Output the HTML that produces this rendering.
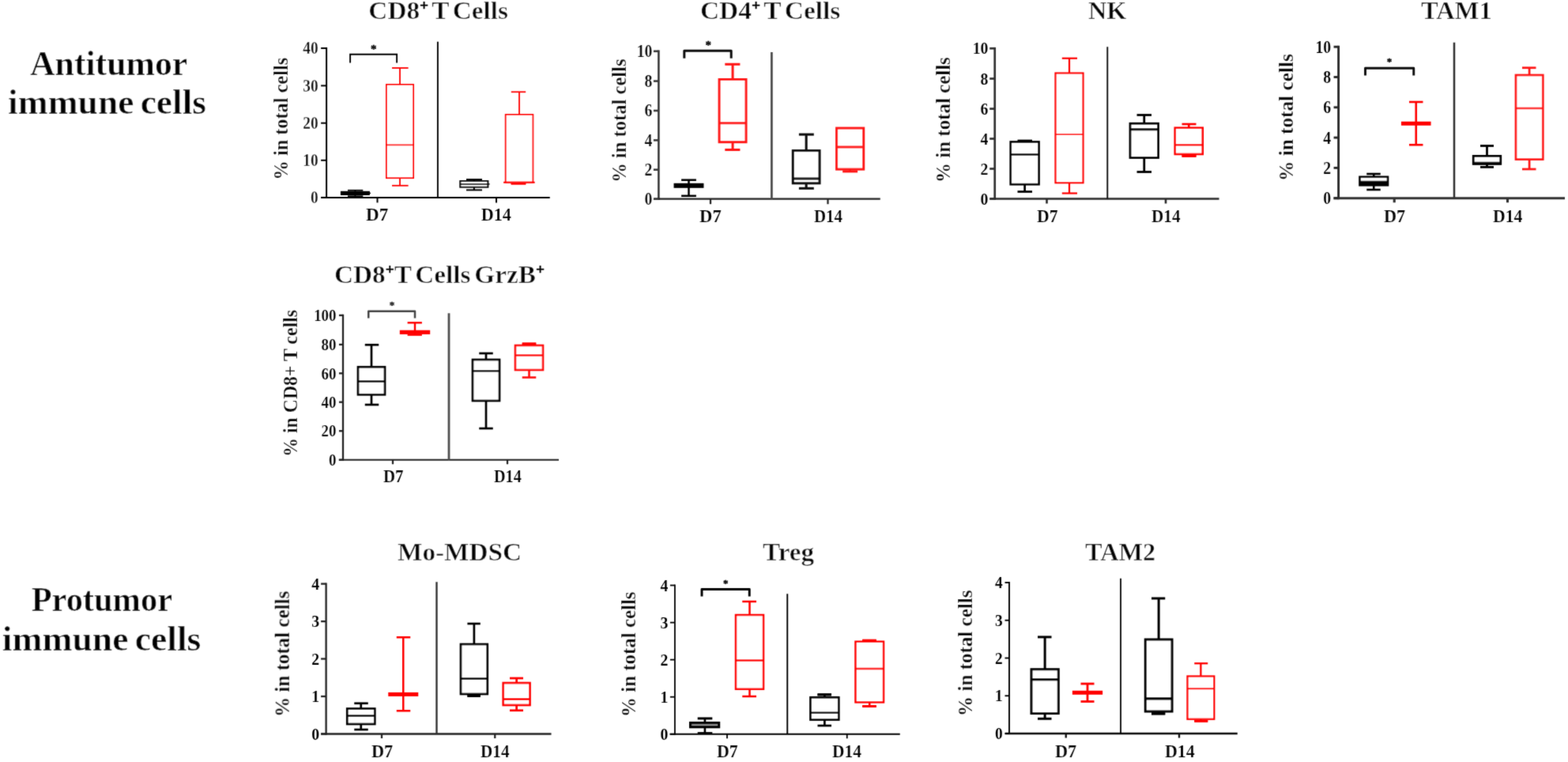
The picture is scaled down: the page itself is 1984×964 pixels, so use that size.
<!DOCTYPE html>
<html lang="en">
<head>
<meta charset="utf-8">
<title>Antitumor and protumor immune cells</title>
<style>
html,body{margin:0;padding:0;background:#fff;}
body{width:1984px;height:964px;overflow:hidden;}
svg{display:block;font-family:'Liberation Serif', 'DejaVu Serif', serif;}
</style>
</head>
<body>
<svg width="1984" height="964" viewBox="0 0 1984 964">
<defs><filter id="soft" x="0" y="0" width="1984" height="964" filterUnits="userSpaceOnUse"><feConvolveMatrix order="3" kernelMatrix="0.02 0.08 0.02 0.08 0.6 0.08 0.02 0.08 0.02" divisor="1" edgeMode="none" preserveAlpha="false"/></filter></defs>
<rect width="1984" height="964" fill="#ffffff"/>
<g filter="url(#soft)">
<text transform="translate(37.99 94.50) scale(1.0051 1)" font-size="43.5" font-weight="bold" text-anchor="start" fill="#000000" stroke="#fff" stroke-width="0.45" stroke-linejoin="round" style="word-spacing:-3px">Antitumor</text>
<text transform="translate(10.11 143.90) scale(1.0464 1)" font-size="43.5" font-weight="bold" text-anchor="start" fill="#000000" stroke="#fff" stroke-width="0.45" stroke-linejoin="round" style="word-spacing:-3px">immune cells</text>
<text transform="translate(39.64 773.20) scale(0.9756 1)" font-size="43.5" font-weight="bold" text-anchor="start" fill="#000000" stroke="#fff" stroke-width="0.45" stroke-linejoin="round" style="word-spacing:-3px">Protumor</text>
<text transform="translate(2.71 823.10) scale(1.0497 1)" font-size="43.5" font-weight="bold" text-anchor="start" fill="#000000" stroke="#fff" stroke-width="0.45" stroke-linejoin="round" style="word-spacing:-3px">immune cells</text>
<text transform="translate(466.36 23.75) scale(1.0250 1)" font-size="32.5" font-weight="bold" text-anchor="start" fill="#000000" stroke="#fff" stroke-width="0.5" stroke-linejoin="round" style="word-spacing:-3.5px">CD8<tspan font-size="19" dy="-10.5" stroke="#000" stroke-width="0.4">+</tspan><tspan dy="10.5"> T Cells</tspan></text>
<text transform="translate(885.94 23.75) scale(1.0296 1)" font-size="32.5" font-weight="bold" text-anchor="start" fill="#000000" stroke="#fff" stroke-width="0.5" stroke-linejoin="round" style="word-spacing:-3.5px">CD4<tspan font-size="19" dy="-10.5" stroke="#000" stroke-width="0.4">+</tspan><tspan dy="10.5"> T Cells</tspan></text>
<text transform="translate(1377.01 23.75) scale(0.9897 1)" font-size="32.5" font-weight="bold" text-anchor="start" fill="#000000" stroke="#fff" stroke-width="0.5" stroke-linejoin="round" style="word-spacing:-3.5px">NK</text>
<text transform="translate(1797.99 23.75) scale(1.0029 1)" font-size="32.5" font-weight="bold" text-anchor="start" fill="#000000" stroke="#fff" stroke-width="0.5" stroke-linejoin="round" style="word-spacing:-3.5px">TAM1</text>
<text transform="translate(422.97 357.50) scale(1.0251 1)" font-size="32.5" font-weight="bold" text-anchor="start" fill="#000000" stroke="#fff" stroke-width="0.5" stroke-linejoin="round" style="word-spacing:-3.5px">CD8<tspan font-size="19" dy="-10.5" stroke="#000" stroke-width="0.4">+</tspan><tspan dy="10.5">T Cells GrzB</tspan><tspan font-size="19" dy="-10.5" stroke="#000" stroke-width="0.4">+</tspan></text>
<text transform="translate(502.96 708.75) scale(1.0250 1)" font-size="32.5" font-weight="bold" text-anchor="start" fill="#000000" stroke="#fff" stroke-width="0.5" stroke-linejoin="round" style="word-spacing:-3.5px">Mo-MDSC</text>
<text transform="translate(964.98 708.75) scale(1.0239 1)" font-size="32.5" font-weight="bold" text-anchor="start" fill="#000000" stroke="#fff" stroke-width="0.5" stroke-linejoin="round" style="word-spacing:-3.5px">Treg</text>
<text transform="translate(1373.00 708.75) scale(0.9943 1)" font-size="32.5" font-weight="bold" text-anchor="start" fill="#000000" stroke="#fff" stroke-width="0.5" stroke-linejoin="round" style="word-spacing:-3.5px">TAM2</text>
<line x1="413.10" y1="59.90" x2="413.10" y2="250.90" stroke="#000000" stroke-width="2.0" stroke-linecap="butt"/>
<line x1="406.25" y1="249.90" x2="695.75" y2="249.90" stroke="#000000" stroke-width="2.0" stroke-linecap="butt"/>
<line x1="406.10" y1="61.00" x2="413.10" y2="61.00" stroke="#000000" stroke-width="2.0" stroke-linecap="butt"/>
<text transform="translate(402.60 68.42) scale(0.8600 1)" font-size="22.5" font-weight="bold" text-anchor="end" fill="#000000" stroke="#fff" stroke-width="0.25" stroke-linejoin="round" >40</text>
<line x1="406.10" y1="108.40" x2="413.10" y2="108.40" stroke="#000000" stroke-width="2.0" stroke-linecap="butt"/>
<text transform="translate(402.60 115.83) scale(0.8600 1)" font-size="22.5" font-weight="bold" text-anchor="end" fill="#000000" stroke="#fff" stroke-width="0.25" stroke-linejoin="round" >30</text>
<line x1="406.10" y1="155.70" x2="413.10" y2="155.70" stroke="#000000" stroke-width="2.0" stroke-linecap="butt"/>
<text transform="translate(402.60 163.12) scale(0.8600 1)" font-size="22.5" font-weight="bold" text-anchor="end" fill="#000000" stroke="#fff" stroke-width="0.25" stroke-linejoin="round" >20</text>
<line x1="406.10" y1="202.80" x2="413.10" y2="202.80" stroke="#000000" stroke-width="2.0" stroke-linecap="butt"/>
<text transform="translate(402.60 210.23) scale(0.8600 1)" font-size="22.5" font-weight="bold" text-anchor="end" fill="#000000" stroke="#fff" stroke-width="0.25" stroke-linejoin="round" >10</text>
<line x1="406.10" y1="249.90" x2="413.10" y2="249.90" stroke="#000000" stroke-width="2.0" stroke-linecap="butt"/>
<text transform="translate(402.60 257.32) scale(0.8600 1)" font-size="22.5" font-weight="bold" text-anchor="end" fill="#000000" stroke="#fff" stroke-width="0.25" stroke-linejoin="round" >0</text>
<line x1="477.50" y1="249.90" x2="477.50" y2="256.40" stroke="#000000" stroke-width="2.0" stroke-linecap="butt"/>
<line x1="628.00" y1="249.90" x2="628.00" y2="256.40" stroke="#000000" stroke-width="2.0" stroke-linecap="butt"/>
<line x1="553.90" y1="52.75" x2="553.90" y2="249.90" stroke="#000000" stroke-width="1.9" stroke-linecap="butt"/>
<text transform="translate(363.50 227.44) rotate(-90) scale(0.9352 1)" font-size="26" font-weight="bold" text-anchor="start" fill="#000000" stroke="#fff" stroke-width="0.25" stroke-linejoin="round" >% in total cells</text>
<text transform="translate(462.98 279.25) scale(1.0270 1)" font-size="22.5" font-weight="bold" text-anchor="start" fill="#000000" stroke="#fff" stroke-width="0.12" stroke-linejoin="round" >D7</text>
<text transform="translate(608.80 279.25) scale(0.9843 1)" font-size="22.5" font-weight="bold" text-anchor="start" fill="#000000" stroke="#fff" stroke-width="0.12" stroke-linejoin="round" >D14</text>
<path d="M443.10 79.40 V68.75 H502.10 V79.40" fill="none" stroke="#000000" stroke-width="1.9"/>
<text transform="translate(472.75 67.25)" font-size="15" font-weight="bold" text-anchor="middle" fill="#000000" stroke="#000000" stroke-width="0.4" stroke-linejoin="round" >*</text>
<line x1="449.40" y1="240.80" x2="449.40" y2="244.40" stroke="#000000" stroke-width="1.8" stroke-linecap="butt"/>
<line x1="440.00" y1="240.80" x2="459.30" y2="240.80" stroke="#000000" stroke-width="1.8" stroke-linecap="butt"/>
<line x1="449.40" y1="244.40" x2="449.40" y2="248.20" stroke="#000000" stroke-width="1.8" stroke-linecap="butt"/>
<line x1="440.00" y1="248.20" x2="459.30" y2="248.20" stroke="#000000" stroke-width="1.8" stroke-linecap="butt"/>
<rect x="430.90" y="241.80" width="37.00" height="5.20" fill="#000000"/>
<line x1="467.00" y1="244.40" x2="469.00" y2="244.40" stroke="#000000" stroke-width="1.4" stroke-linecap="butt"/>
<line x1="506.00" y1="86.00" x2="506.00" y2="107.00" stroke="#ff0000" stroke-width="1.8" stroke-linecap="butt"/>
<line x1="496.00" y1="86.00" x2="516.60" y2="86.00" stroke="#ff0000" stroke-width="1.8" stroke-linecap="butt"/>
<line x1="506.00" y1="225.20" x2="506.00" y2="234.80" stroke="#ff0000" stroke-width="1.8" stroke-linecap="butt"/>
<line x1="496.00" y1="234.80" x2="516.60" y2="234.80" stroke="#ff0000" stroke-width="1.8" stroke-linecap="butt"/>
<rect x="488.90" y="107.00" width="34.20" height="118.20" fill="#fff" stroke="#ff0000" stroke-width="1.8"/>
<line x1="488.90" y1="183.30" x2="523.10" y2="183.30" stroke="#ff0000" stroke-width="1.8" stroke-linecap="butt"/>
<line x1="599.85" y1="227.10" x2="599.85" y2="229.10" stroke="#000000" stroke-width="2.0" stroke-linecap="butt"/>
<line x1="590.00" y1="227.10" x2="610.00" y2="227.10" stroke="#000000" stroke-width="2.0" stroke-linecap="butt"/>
<line x1="599.85" y1="236.70" x2="599.85" y2="240.40" stroke="#000000" stroke-width="2.0" stroke-linecap="butt"/>
<line x1="590.00" y1="240.40" x2="610.00" y2="240.40" stroke="#000000" stroke-width="2.0" stroke-linecap="butt"/>
<rect x="582.30" y="229.10" width="35.10" height="7.60" fill="#fff" stroke="#000000" stroke-width="2.0"/>
<line x1="582.30" y1="232.90" x2="617.40" y2="232.90" stroke="#000000" stroke-width="2.0" stroke-linecap="butt"/>
<line x1="617.40" y1="232.90" x2="619.60" y2="232.90" stroke="#000000" stroke-width="1.4" stroke-linecap="butt"/>
<line x1="657.05" y1="116.30" x2="657.05" y2="145.00" stroke="#ff0000" stroke-width="1.8" stroke-linecap="butt"/>
<line x1="646.80" y1="116.30" x2="665.20" y2="116.30" stroke="#ff0000" stroke-width="1.8" stroke-linecap="butt"/>
<line x1="657.05" y1="230.60" x2="657.05" y2="232.50" stroke="#ff0000" stroke-width="1.8" stroke-linecap="butt"/>
<line x1="646.80" y1="232.50" x2="665.20" y2="232.50" stroke="#ff0000" stroke-width="1.8" stroke-linecap="butt"/>
<rect x="639.70" y="145.00" width="34.70" height="85.60" fill="#fff" stroke="#ff0000" stroke-width="1.8"/>
<line x1="637.10" y1="230.80" x2="676.70" y2="230.80" stroke="#ff0000" stroke-width="2.1" stroke-linecap="butt"/>
<line x1="646.50" y1="232.60" x2="665.40" y2="232.60" stroke="#ff0000" stroke-width="1.9" stroke-linecap="butt"/>
<line x1="833.40" y1="63.50" x2="833.40" y2="253.00" stroke="#3a3a3a" stroke-width="2.6" stroke-linecap="butt"/>
<line x1="827.50" y1="251.70" x2="1113.75" y2="251.70" stroke="#222" stroke-width="2.2" stroke-linecap="butt"/>
<line x1="826.90" y1="64.80" x2="833.40" y2="64.80" stroke="#3a3a3a" stroke-width="2.6" stroke-linecap="butt"/>
<text transform="translate(825.50 72.22) scale(0.8800 1)" font-size="22.5" font-weight="bold" text-anchor="end" fill="#000000" stroke="#fff" stroke-width="0.2" stroke-linejoin="round" >10</text>
<line x1="826.90" y1="102.60" x2="833.40" y2="102.60" stroke="#3a3a3a" stroke-width="2.6" stroke-linecap="butt"/>
<text transform="translate(825.50 110.02) scale(0.8800 1)" font-size="22.5" font-weight="bold" text-anchor="end" fill="#000000" stroke="#fff" stroke-width="0.2" stroke-linejoin="round" >8</text>
<line x1="826.90" y1="140.00" x2="833.40" y2="140.00" stroke="#3a3a3a" stroke-width="2.6" stroke-linecap="butt"/>
<text transform="translate(825.50 147.43) scale(0.8800 1)" font-size="22.5" font-weight="bold" text-anchor="end" fill="#000000" stroke="#fff" stroke-width="0.2" stroke-linejoin="round" >6</text>
<line x1="826.90" y1="177.40" x2="833.40" y2="177.40" stroke="#3a3a3a" stroke-width="2.6" stroke-linecap="butt"/>
<text transform="translate(825.50 184.83) scale(0.8800 1)" font-size="22.5" font-weight="bold" text-anchor="end" fill="#000000" stroke="#fff" stroke-width="0.2" stroke-linejoin="round" >4</text>
<line x1="826.90" y1="214.70" x2="833.40" y2="214.70" stroke="#3a3a3a" stroke-width="2.6" stroke-linecap="butt"/>
<text transform="translate(825.50 222.12) scale(0.8800 1)" font-size="22.5" font-weight="bold" text-anchor="end" fill="#000000" stroke="#fff" stroke-width="0.2" stroke-linejoin="round" >2</text>
<line x1="826.90" y1="251.70" x2="833.40" y2="251.70" stroke="#3a3a3a" stroke-width="2.6" stroke-linecap="butt"/>
<text transform="translate(825.50 259.12) scale(0.8800 1)" font-size="22.5" font-weight="bold" text-anchor="end" fill="#000000" stroke="#fff" stroke-width="0.2" stroke-linejoin="round" >0</text>
<line x1="899.00" y1="251.70" x2="899.00" y2="258.20" stroke="#222" stroke-width="2.2" stroke-linecap="butt"/>
<line x1="1047.50" y1="251.70" x2="1047.50" y2="258.20" stroke="#222" stroke-width="2.2" stroke-linecap="butt"/>
<line x1="976.40" y1="66.00" x2="976.40" y2="251.70" stroke="#505050" stroke-width="2.8" stroke-linecap="butt"/>
<text transform="translate(791.50 230.86) rotate(-90) scale(0.9461 1)" font-size="26" font-weight="bold" text-anchor="start" fill="#000000" stroke="#fff" stroke-width="0.25" stroke-linejoin="round" >% in total cells</text>
<text transform="translate(885.00 281.25) scale(1.0099 1)" font-size="22.5" font-weight="bold" text-anchor="start" fill="#000000" stroke="#fff" stroke-width="0.12" stroke-linejoin="round" >D7</text>
<text transform="translate(1030.00 281.25) scale(0.9298 1)" font-size="22.5" font-weight="bold" text-anchor="start" fill="#000000" stroke="#fff" stroke-width="0.12" stroke-linejoin="round" >D14</text>
<path d="M865.80 73.80 V64.30 H925.20 V73.80" fill="none" stroke="#111" stroke-width="3.0" stroke-linejoin="round"/>
<text transform="translate(896.30 62.25)" font-size="15" font-weight="bold" text-anchor="middle" fill="#000000" stroke="#000000" stroke-width="0.4" stroke-linejoin="round" >*</text>
<line x1="871.50" y1="227.70" x2="871.50" y2="234.80" stroke="#000000" stroke-width="2.5" stroke-linecap="butt"/>
<line x1="862.10" y1="227.70" x2="880.90" y2="227.70" stroke="#000000" stroke-width="2.5" stroke-linecap="butt"/>
<line x1="871.50" y1="234.80" x2="871.50" y2="247.80" stroke="#000000" stroke-width="2.5" stroke-linecap="butt"/>
<line x1="862.10" y1="247.80" x2="880.90" y2="247.80" stroke="#000000" stroke-width="2.5" stroke-linecap="butt"/>
<rect x="852.55" y="231.80" width="37.90" height="6.00" fill="#000000"/>
<line x1="927.05" y1="81.30" x2="927.05" y2="100.50" stroke="#ff1414" stroke-width="3.0" stroke-linecap="butt"/>
<line x1="917.30" y1="81.30" x2="936.40" y2="81.30" stroke="#ff1414" stroke-width="3.0" stroke-linecap="butt"/>
<line x1="927.05" y1="179.70" x2="927.05" y2="189.50" stroke="#ff1414" stroke-width="3.0" stroke-linecap="butt"/>
<line x1="917.30" y1="189.50" x2="936.40" y2="189.50" stroke="#ff1414" stroke-width="3.0" stroke-linecap="butt"/>
<rect x="910.10" y="100.50" width="33.90" height="79.20" fill="#fff" stroke="#ff1414" stroke-width="3.0"/>
<line x1="910.10" y1="155.75" x2="944.00" y2="155.75" stroke="#ff1414" stroke-width="3.0" stroke-linecap="butt"/>
<line x1="1020.15" y1="170.10" x2="1020.15" y2="190.60" stroke="#0a0a0a" stroke-width="3.0" stroke-linecap="butt"/>
<line x1="1010.90" y1="170.10" x2="1029.80" y2="170.10" stroke="#0a0a0a" stroke-width="3.0" stroke-linecap="butt"/>
<line x1="1020.15" y1="231.80" x2="1020.15" y2="238.30" stroke="#0a0a0a" stroke-width="3.0" stroke-linecap="butt"/>
<line x1="1010.90" y1="238.30" x2="1029.80" y2="238.30" stroke="#0a0a0a" stroke-width="3.0" stroke-linecap="butt"/>
<rect x="1003.30" y="190.60" width="33.70" height="41.20" fill="#fff" stroke="#0a0a0a" stroke-width="3.0"/>
<line x1="1003.30" y1="226.00" x2="1037.00" y2="226.00" stroke="#0a0a0a" stroke-width="3.0" stroke-linecap="butt"/>
<line x1="1075.65" y1="214.10" x2="1075.65" y2="216.90" stroke="#ff1414" stroke-width="3.0" stroke-linecap="butt"/>
<line x1="1066.20" y1="216.90" x2="1085.10" y2="216.90" stroke="#ff1414" stroke-width="3.0" stroke-linecap="butt"/>
<rect x="1058.60" y="162.10" width="34.10" height="52.00" fill="#fff" stroke="#ff1414" stroke-width="3.0"/>
<line x1="1058.60" y1="186.00" x2="1092.70" y2="186.00" stroke="#ff1414" stroke-width="3.0" stroke-linecap="butt"/>
<line x1="1258.70" y1="59.90" x2="1258.70" y2="252.85" stroke="#333" stroke-width="2.7" stroke-linecap="butt"/>
<line x1="1252.50" y1="251.50" x2="1542.50" y2="251.50" stroke="#2a2a2a" stroke-width="2.6" stroke-linecap="butt"/>
<line x1="1252.20" y1="61.25" x2="1258.70" y2="61.25" stroke="#333" stroke-width="2.7" stroke-linecap="butt"/>
<text transform="translate(1250.50 68.34) scale(0.9200 1)" font-size="21.5" font-weight="bold" text-anchor="end" fill="#000000" stroke="#fff" stroke-width="0.1" stroke-linejoin="round" >10</text>
<line x1="1252.20" y1="99.50" x2="1258.70" y2="99.50" stroke="#333" stroke-width="2.7" stroke-linecap="butt"/>
<text transform="translate(1250.50 106.59) scale(0.9200 1)" font-size="21.5" font-weight="bold" text-anchor="end" fill="#000000" stroke="#fff" stroke-width="0.1" stroke-linejoin="round" >8</text>
<line x1="1252.20" y1="137.60" x2="1258.70" y2="137.60" stroke="#333" stroke-width="2.7" stroke-linecap="butt"/>
<text transform="translate(1250.50 144.69) scale(0.9200 1)" font-size="21.5" font-weight="bold" text-anchor="end" fill="#000000" stroke="#fff" stroke-width="0.1" stroke-linejoin="round" >6</text>
<line x1="1252.20" y1="175.50" x2="1258.70" y2="175.50" stroke="#333" stroke-width="2.7" stroke-linecap="butt"/>
<text transform="translate(1250.50 182.59) scale(0.9200 1)" font-size="21.5" font-weight="bold" text-anchor="end" fill="#000000" stroke="#fff" stroke-width="0.1" stroke-linejoin="round" >4</text>
<line x1="1252.20" y1="213.50" x2="1258.70" y2="213.50" stroke="#333" stroke-width="2.7" stroke-linecap="butt"/>
<text transform="translate(1250.50 220.59) scale(0.9200 1)" font-size="21.5" font-weight="bold" text-anchor="end" fill="#000000" stroke="#fff" stroke-width="0.1" stroke-linejoin="round" >2</text>
<line x1="1252.20" y1="251.50" x2="1258.70" y2="251.50" stroke="#333" stroke-width="2.7" stroke-linecap="butt"/>
<text transform="translate(1250.50 258.60) scale(0.9200 1)" font-size="21.5" font-weight="bold" text-anchor="end" fill="#000000" stroke="#fff" stroke-width="0.1" stroke-linejoin="round" >0</text>
<line x1="1324.50" y1="251.50" x2="1324.50" y2="257.50" stroke="#2a2a2a" stroke-width="2.6" stroke-linecap="butt"/>
<line x1="1475.00" y1="251.50" x2="1475.00" y2="257.50" stroke="#2a2a2a" stroke-width="2.6" stroke-linecap="butt"/>
<line x1="1401.25" y1="59.25" x2="1401.25" y2="251.50" stroke="#111" stroke-width="1.9" stroke-linecap="butt"/>
<text transform="translate(1202.00 230.88) rotate(-90) scale(0.9599 1)" font-size="26" font-weight="bold" text-anchor="start" fill="#000000" stroke="#fff" stroke-width="0.25" stroke-linejoin="round" >% in total cells</text>
<text transform="translate(1312.00 281.25) scale(0.9630 1)" font-size="22.5" font-weight="bold" text-anchor="start" fill="#000000" stroke="#fff" stroke-width="0.12" stroke-linejoin="round" >D7</text>
<text transform="translate(1457.02 281.25) scale(0.9411 1)" font-size="22.5" font-weight="bold" text-anchor="start" fill="#000000" stroke="#fff" stroke-width="0.12" stroke-linejoin="round" >D14</text>
<line x1="1296.62" y1="178.00" x2="1296.62" y2="179.50" stroke="#000000" stroke-width="2.7" stroke-linecap="butt"/>
<line x1="1287.50" y1="178.00" x2="1306.00" y2="178.00" stroke="#000000" stroke-width="2.7" stroke-linecap="butt"/>
<line x1="1296.62" y1="233.20" x2="1296.62" y2="242.50" stroke="#000000" stroke-width="2.7" stroke-linecap="butt"/>
<line x1="1287.50" y1="242.50" x2="1306.00" y2="242.50" stroke="#000000" stroke-width="2.7" stroke-linecap="butt"/>
<rect x="1278.75" y="179.50" width="35.75" height="53.70" fill="#fff" stroke="#000000" stroke-width="2.7"/>
<line x1="1278.75" y1="195.50" x2="1314.50" y2="195.50" stroke="#000000" stroke-width="2.7" stroke-linecap="butt"/>
<line x1="1353.00" y1="73.75" x2="1353.00" y2="92.50" stroke="#ff0000" stroke-width="2.2" stroke-linecap="butt"/>
<line x1="1343.80" y1="73.75" x2="1363.00" y2="73.75" stroke="#ff0000" stroke-width="2.2" stroke-linecap="butt"/>
<line x1="1353.00" y1="231.25" x2="1353.00" y2="244.50" stroke="#ff0000" stroke-width="2.2" stroke-linecap="butt"/>
<line x1="1343.80" y1="244.50" x2="1363.00" y2="244.50" stroke="#ff0000" stroke-width="2.2" stroke-linecap="butt"/>
<rect x="1335.50" y="92.50" width="35.00" height="138.75" fill="#fff" stroke="#ff0000" stroke-width="2.2"/>
<line x1="1335.50" y1="170.00" x2="1370.50" y2="170.00" stroke="#ff0000" stroke-width="2.2" stroke-linecap="butt"/>
<line x1="1447.75" y1="145.50" x2="1447.75" y2="156.25" stroke="#000000" stroke-width="2.8" stroke-linecap="butt"/>
<line x1="1438.50" y1="145.50" x2="1457.00" y2="145.50" stroke="#000000" stroke-width="2.8" stroke-linecap="butt"/>
<line x1="1447.75" y1="199.50" x2="1447.75" y2="217.50" stroke="#000000" stroke-width="2.8" stroke-linecap="butt"/>
<line x1="1438.50" y1="217.50" x2="1457.00" y2="217.50" stroke="#000000" stroke-width="2.8" stroke-linecap="butt"/>
<rect x="1430.00" y="156.25" width="35.50" height="43.25" fill="#fff" stroke="#000000" stroke-width="2.8"/>
<line x1="1430.00" y1="163.75" x2="1465.50" y2="163.75" stroke="#000000" stroke-width="2.8" stroke-linecap="butt"/>
<line x1="1504.25" y1="157.00" x2="1504.25" y2="161.75" stroke="#ff0000" stroke-width="2.6" stroke-linecap="butt"/>
<line x1="1495.50" y1="157.00" x2="1513.50" y2="157.00" stroke="#ff0000" stroke-width="2.6" stroke-linecap="butt"/>
<line x1="1504.25" y1="195.00" x2="1504.25" y2="197.30" stroke="#ff0000" stroke-width="2.6" stroke-linecap="butt"/>
<line x1="1495.50" y1="197.30" x2="1513.50" y2="197.30" stroke="#ff0000" stroke-width="2.6" stroke-linecap="butt"/>
<rect x="1486.75" y="161.75" width="35.00" height="33.25" fill="#fff" stroke="#ff0000" stroke-width="2.6"/>
<line x1="1486.75" y1="183.25" x2="1521.75" y2="183.25" stroke="#ff0000" stroke-width="2.6" stroke-linecap="butt"/>
<line x1="1495.50" y1="197.30" x2="1513.50" y2="197.30" stroke="#ff0000" stroke-width="3.2" stroke-linecap="butt"/>
<line x1="1693.60" y1="57.80" x2="1693.60" y2="252.20" stroke="#2a2a2a" stroke-width="2.9" stroke-linecap="butt"/>
<line x1="1687.50" y1="250.75" x2="1980.00" y2="250.75" stroke="#333" stroke-width="3.1" stroke-linecap="butt"/>
<line x1="1687.60" y1="59.25" x2="1693.60" y2="59.25" stroke="#2a2a2a" stroke-width="2.9" stroke-linecap="butt"/>
<text transform="translate(1684.25 66.67) scale(0.8800 1)" font-size="22.5" font-weight="bold" text-anchor="end" fill="#000000" stroke="#fff" stroke-width="0.1" stroke-linejoin="round" >10</text>
<line x1="1687.60" y1="97.50" x2="1693.60" y2="97.50" stroke="#2a2a2a" stroke-width="2.9" stroke-linecap="butt"/>
<text transform="translate(1684.25 104.92) scale(0.8800 1)" font-size="22.5" font-weight="bold" text-anchor="end" fill="#000000" stroke="#fff" stroke-width="0.1" stroke-linejoin="round" >8</text>
<line x1="1687.60" y1="135.80" x2="1693.60" y2="135.80" stroke="#2a2a2a" stroke-width="2.9" stroke-linecap="butt"/>
<text transform="translate(1684.25 143.23) scale(0.8800 1)" font-size="22.5" font-weight="bold" text-anchor="end" fill="#000000" stroke="#fff" stroke-width="0.1" stroke-linejoin="round" >6</text>
<line x1="1687.60" y1="174.10" x2="1693.60" y2="174.10" stroke="#2a2a2a" stroke-width="2.9" stroke-linecap="butt"/>
<text transform="translate(1684.25 181.53) scale(0.8800 1)" font-size="22.5" font-weight="bold" text-anchor="end" fill="#000000" stroke="#fff" stroke-width="0.1" stroke-linejoin="round" >4</text>
<line x1="1687.60" y1="212.40" x2="1693.60" y2="212.40" stroke="#2a2a2a" stroke-width="2.9" stroke-linecap="butt"/>
<text transform="translate(1684.25 219.83) scale(0.8800 1)" font-size="22.5" font-weight="bold" text-anchor="end" fill="#000000" stroke="#fff" stroke-width="0.1" stroke-linejoin="round" >2</text>
<line x1="1687.60" y1="250.75" x2="1693.60" y2="250.75" stroke="#2a2a2a" stroke-width="2.9" stroke-linecap="butt"/>
<text transform="translate(1684.25 258.18) scale(0.8800 1)" font-size="22.5" font-weight="bold" text-anchor="end" fill="#000000" stroke="#fff" stroke-width="0.1" stroke-linejoin="round" >0</text>
<line x1="1764.25" y1="250.75" x2="1764.25" y2="256.25" stroke="#333" stroke-width="3.1" stroke-linecap="butt"/>
<line x1="1907.50" y1="250.75" x2="1907.50" y2="256.25" stroke="#333" stroke-width="3.1" stroke-linecap="butt"/>
<line x1="1840.00" y1="53.75" x2="1840.00" y2="250.75" stroke="#333" stroke-width="2.5" stroke-linecap="butt"/>
<text transform="translate(1635.50 228.94) rotate(-90) scale(0.9725 1)" font-size="26" font-weight="bold" text-anchor="start" fill="#000000" stroke="#fff" stroke-width="0.25" stroke-linejoin="round" >% in total cells</text>
<text transform="translate(1751.00 280.75) scale(0.9909 1)" font-size="22.5" font-weight="bold" text-anchor="start" fill="#000000" stroke="#fff" stroke-width="0.12" stroke-linejoin="round" >D7</text>
<text transform="translate(1889.00 280.75) scale(0.9672 1)" font-size="22.5" font-weight="bold" text-anchor="start" fill="#000000" stroke="#fff" stroke-width="0.12" stroke-linejoin="round" >D14</text>
<path d="M1727.50 95.50 V86.25 H1788.75 V95.50" fill="none" stroke="#111" stroke-width="2.9" stroke-linejoin="round"/>
<text transform="translate(1758.00 81.83)" font-size="13" font-weight="bold" text-anchor="middle" fill="#000000" stroke="#000000" stroke-width="0.4" stroke-linejoin="round" >*</text>
<line x1="1738.25" y1="220.00" x2="1738.25" y2="223.80" stroke="#000000" stroke-width="2.6" stroke-linecap="butt"/>
<line x1="1729.25" y1="220.00" x2="1746.75" y2="220.00" stroke="#000000" stroke-width="2.6" stroke-linecap="butt"/>
<line x1="1738.25" y1="234.30" x2="1738.25" y2="240.00" stroke="#000000" stroke-width="2.6" stroke-linecap="butt"/>
<line x1="1729.25" y1="240.00" x2="1746.75" y2="240.00" stroke="#000000" stroke-width="2.6" stroke-linecap="butt"/>
<rect x="1720.50" y="223.80" width="35.50" height="10.50" fill="#fff" stroke="#000000" stroke-width="2.6"/>
<line x1="1720.50" y1="230.80" x2="1756.00" y2="230.80" stroke="#000000" stroke-width="4.2" stroke-linecap="butt"/>
<line x1="1791.75" y1="129.00" x2="1791.75" y2="156.25" stroke="#ff0000" stroke-width="2.6" stroke-linecap="butt"/>
<line x1="1783.00" y1="129.00" x2="1800.50" y2="129.00" stroke="#ff0000" stroke-width="2.6" stroke-linecap="butt"/>
<line x1="1791.75" y1="156.25" x2="1791.75" y2="183.25" stroke="#ff0000" stroke-width="2.6" stroke-linecap="butt"/>
<line x1="1783.00" y1="183.25" x2="1800.50" y2="183.25" stroke="#ff0000" stroke-width="2.6" stroke-linecap="butt"/>
<rect x="1772.95" y="153.75" width="37.60" height="5.00" fill="#ff0000"/>
<line x1="1881.50" y1="184.50" x2="1881.50" y2="197.40" stroke="#000000" stroke-width="2.8" stroke-linecap="butt"/>
<line x1="1873.00" y1="184.50" x2="1890.00" y2="184.50" stroke="#000000" stroke-width="2.8" stroke-linecap="butt"/>
<line x1="1881.50" y1="207.40" x2="1881.50" y2="211.40" stroke="#000000" stroke-width="2.8" stroke-linecap="butt"/>
<line x1="1873.00" y1="211.40" x2="1890.00" y2="211.40" stroke="#000000" stroke-width="2.8" stroke-linecap="butt"/>
<rect x="1864.25" y="197.40" width="34.50" height="10.00" fill="#fff" stroke="#000000" stroke-width="2.8"/>
<line x1="1864.25" y1="206.60" x2="1898.75" y2="206.60" stroke="#000000" stroke-width="3.5" stroke-linecap="butt"/>
<line x1="1935.12" y1="85.75" x2="1935.12" y2="95.00" stroke="#ff1414" stroke-width="2.7" stroke-linecap="butt"/>
<line x1="1926.00" y1="85.75" x2="1943.50" y2="85.75" stroke="#ff1414" stroke-width="2.7" stroke-linecap="butt"/>
<line x1="1935.12" y1="201.60" x2="1935.12" y2="214.00" stroke="#ff1414" stroke-width="2.7" stroke-linecap="butt"/>
<line x1="1926.00" y1="214.00" x2="1943.50" y2="214.00" stroke="#ff1414" stroke-width="2.7" stroke-linecap="butt"/>
<rect x="1918.00" y="95.00" width="34.25" height="106.60" fill="#fff" stroke="#ff1414" stroke-width="2.7"/>
<line x1="1918.00" y1="137.00" x2="1952.25" y2="137.00" stroke="#ff1414" stroke-width="2.7" stroke-linecap="butt"/>
<line x1="434.00" y1="397.75" x2="434.00" y2="582.90" stroke="#222" stroke-width="2.3" stroke-linecap="butt"/>
<line x1="428.75" y1="581.75" x2="707.00" y2="581.75" stroke="#222" stroke-width="2.2" stroke-linecap="butt"/>
<line x1="429.00" y1="398.90" x2="434.00" y2="398.90" stroke="#222" stroke-width="2.3" stroke-linecap="butt"/>
<text transform="translate(425.50 406.16) scale(0.8600 1)" font-size="22" font-weight="bold" text-anchor="end" fill="#000000" stroke="#fff" stroke-width="0.15" stroke-linejoin="round" >100</text>
<line x1="429.00" y1="435.90" x2="434.00" y2="435.90" stroke="#222" stroke-width="2.3" stroke-linecap="butt"/>
<text transform="translate(425.50 443.16) scale(0.8600 1)" font-size="22" font-weight="bold" text-anchor="end" fill="#000000" stroke="#fff" stroke-width="0.15" stroke-linejoin="round" >80</text>
<line x1="429.00" y1="472.30" x2="434.00" y2="472.30" stroke="#222" stroke-width="2.3" stroke-linecap="butt"/>
<text transform="translate(425.50 479.56) scale(0.8600 1)" font-size="22" font-weight="bold" text-anchor="end" fill="#000000" stroke="#fff" stroke-width="0.15" stroke-linejoin="round" >60</text>
<line x1="429.00" y1="508.70" x2="434.00" y2="508.70" stroke="#222" stroke-width="2.3" stroke-linecap="butt"/>
<text transform="translate(425.50 515.96) scale(0.8600 1)" font-size="22" font-weight="bold" text-anchor="end" fill="#000000" stroke="#fff" stroke-width="0.15" stroke-linejoin="round" >40</text>
<line x1="429.00" y1="545.20" x2="434.00" y2="545.20" stroke="#222" stroke-width="2.3" stroke-linecap="butt"/>
<text transform="translate(425.50 552.46) scale(0.8600 1)" font-size="22" font-weight="bold" text-anchor="end" fill="#000000" stroke="#fff" stroke-width="0.15" stroke-linejoin="round" >20</text>
<line x1="429.00" y1="581.75" x2="434.00" y2="581.75" stroke="#222" stroke-width="2.3" stroke-linecap="butt"/>
<text transform="translate(425.50 589.01) scale(0.8600 1)" font-size="22" font-weight="bold" text-anchor="end" fill="#000000" stroke="#fff" stroke-width="0.15" stroke-linejoin="round" >0</text>
<line x1="497.00" y1="581.75" x2="497.00" y2="587.25" stroke="#222" stroke-width="2.2" stroke-linecap="butt"/>
<line x1="642.00" y1="581.75" x2="642.00" y2="587.25" stroke="#222" stroke-width="2.2" stroke-linecap="butt"/>
<line x1="568.00" y1="396.25" x2="568.00" y2="581.75" stroke="#505050" stroke-width="2.8" stroke-linecap="butt"/>
<text transform="translate(376.25 577.79) rotate(-90) scale(0.9150 1)" font-size="26" font-weight="bold" text-anchor="start" fill="#000000" stroke="#fff" stroke-width="0.25" stroke-linejoin="round" >% in CD8+ T cells</text>
<text transform="translate(485.00 610.00) scale(0.9259 1)" font-size="22.5" font-weight="bold" text-anchor="start" fill="#000000" stroke="#fff" stroke-width="0.12" stroke-linejoin="round" >D7</text>
<text transform="translate(625.00 610.00) scale(0.8974 1)" font-size="22.5" font-weight="bold" text-anchor="start" fill="#000000" stroke="#fff" stroke-width="0.12" stroke-linejoin="round" >D14</text>
<path d="M466.25 402.50 V393.75 H525.00 V402.50" fill="none" stroke="#444" stroke-width="2.5" stroke-linejoin="round"/>
<text transform="translate(495.90 390.43)" font-size="13" font-weight="bold" text-anchor="middle" fill="#222" stroke="#222" stroke-width="0.4" stroke-linejoin="round" >*</text>
<line x1="470.00" y1="436.25" x2="470.00" y2="464.25" stroke="#000000" stroke-width="2.7" stroke-linecap="butt"/>
<line x1="461.75" y1="436.25" x2="479.25" y2="436.25" stroke="#000000" stroke-width="2.7" stroke-linecap="butt"/>
<line x1="470.00" y1="499.25" x2="470.00" y2="512.00" stroke="#000000" stroke-width="2.7" stroke-linecap="butt"/>
<line x1="461.75" y1="512.00" x2="479.25" y2="512.00" stroke="#000000" stroke-width="2.7" stroke-linecap="butt"/>
<rect x="453.00" y="464.25" width="34.00" height="35.00" fill="#fff" stroke="#000000" stroke-width="2.7"/>
<line x1="453.00" y1="482.50" x2="487.00" y2="482.50" stroke="#000000" stroke-width="2.7" stroke-linecap="butt"/>
<line x1="525.00" y1="408.30" x2="525.00" y2="420.30" stroke="#ff0000" stroke-width="2.4" stroke-linecap="butt"/>
<line x1="515.60" y1="408.30" x2="533.90" y2="408.30" stroke="#ff0000" stroke-width="2.4" stroke-linecap="butt"/>
<line x1="525.00" y1="420.30" x2="525.00" y2="423.60" stroke="#ff0000" stroke-width="2.4" stroke-linecap="butt"/>
<line x1="515.60" y1="423.60" x2="533.90" y2="423.60" stroke="#ff0000" stroke-width="2.4" stroke-linecap="butt"/>
<rect x="505.80" y="417.70" width="38.40" height="5.20" fill="#ff0000"/>
<line x1="615.00" y1="447.00" x2="615.00" y2="455.00" stroke="#000000" stroke-width="2.7" stroke-linecap="butt"/>
<line x1="606.25" y1="447.00" x2="623.75" y2="447.00" stroke="#000000" stroke-width="2.7" stroke-linecap="butt"/>
<line x1="615.00" y1="507.00" x2="615.00" y2="542.00" stroke="#000000" stroke-width="2.7" stroke-linecap="butt"/>
<line x1="606.25" y1="542.00" x2="623.75" y2="542.00" stroke="#000000" stroke-width="2.7" stroke-linecap="butt"/>
<rect x="598.00" y="455.00" width="34.00" height="52.00" fill="#fff" stroke="#000000" stroke-width="2.7"/>
<line x1="598.00" y1="469.25" x2="632.00" y2="469.25" stroke="#000000" stroke-width="2.7" stroke-linecap="butt"/>
<line x1="669.50" y1="434.80" x2="669.50" y2="437.00" stroke="#ff0a0a" stroke-width="2.6" stroke-linecap="butt"/>
<line x1="660.75" y1="434.80" x2="678.25" y2="434.80" stroke="#ff0a0a" stroke-width="2.6" stroke-linecap="butt"/>
<line x1="669.50" y1="468.00" x2="669.50" y2="477.50" stroke="#ff0a0a" stroke-width="2.6" stroke-linecap="butt"/>
<line x1="660.75" y1="477.50" x2="678.25" y2="477.50" stroke="#ff0a0a" stroke-width="2.6" stroke-linecap="butt"/>
<rect x="652.00" y="437.00" width="35.00" height="31.00" fill="#fff" stroke="#ff0a0a" stroke-width="2.6"/>
<line x1="652.00" y1="449.50" x2="687.00" y2="449.50" stroke="#ff0a0a" stroke-width="2.6" stroke-linecap="butt"/>
<line x1="660.75" y1="435.00" x2="678.25" y2="435.00" stroke="#ff0000" stroke-width="3.0" stroke-linecap="butt"/>
<line x1="412.60" y1="737.45" x2="412.60" y2="929.65" stroke="#222" stroke-width="2.3" stroke-linecap="butt"/>
<line x1="406.25" y1="928.50" x2="697.50" y2="928.50" stroke="#222" stroke-width="2.3" stroke-linecap="butt"/>
<line x1="406.10" y1="738.60" x2="412.60" y2="738.60" stroke="#222" stroke-width="2.3" stroke-linecap="butt"/>
<text transform="translate(404.25 745.70) scale(0.9200 1)" font-size="21.5" font-weight="bold" text-anchor="end" fill="#000000" stroke="#fff" stroke-width="0.05" stroke-linejoin="round" >4</text>
<line x1="406.10" y1="786.10" x2="412.60" y2="786.10" stroke="#222" stroke-width="2.3" stroke-linecap="butt"/>
<text transform="translate(404.25 793.20) scale(0.9200 1)" font-size="21.5" font-weight="bold" text-anchor="end" fill="#000000" stroke="#fff" stroke-width="0.05" stroke-linejoin="round" >3</text>
<line x1="406.10" y1="833.50" x2="412.60" y2="833.50" stroke="#222" stroke-width="2.3" stroke-linecap="butt"/>
<text transform="translate(404.25 840.60) scale(0.9200 1)" font-size="21.5" font-weight="bold" text-anchor="end" fill="#000000" stroke="#fff" stroke-width="0.05" stroke-linejoin="round" >2</text>
<line x1="406.10" y1="881.00" x2="412.60" y2="881.00" stroke="#222" stroke-width="2.3" stroke-linecap="butt"/>
<text transform="translate(404.25 888.10) scale(0.9200 1)" font-size="21.5" font-weight="bold" text-anchor="end" fill="#000000" stroke="#fff" stroke-width="0.05" stroke-linejoin="round" >1</text>
<line x1="406.10" y1="928.50" x2="412.60" y2="928.50" stroke="#222" stroke-width="2.3" stroke-linecap="butt"/>
<text transform="translate(404.25 935.60) scale(0.9200 1)" font-size="21.5" font-weight="bold" text-anchor="end" fill="#000000" stroke="#fff" stroke-width="0.05" stroke-linejoin="round" >0</text>
<line x1="483.00" y1="928.50" x2="483.00" y2="934.00" stroke="#222" stroke-width="2.3" stroke-linecap="butt"/>
<line x1="626.25" y1="928.50" x2="626.25" y2="934.00" stroke="#222" stroke-width="2.3" stroke-linecap="butt"/>
<line x1="552.50" y1="736.25" x2="552.50" y2="928.50" stroke="#333" stroke-width="2.4" stroke-linecap="butt"/>
<text transform="translate(365.75 906.90) rotate(-90) scale(0.9630 1)" font-size="26" font-weight="bold" text-anchor="start" fill="#000000" stroke="#fff" stroke-width="0.25" stroke-linejoin="round" >% in total cells</text>
<text transform="translate(470.00 958.00) scale(0.9909 1)" font-size="22.5" font-weight="bold" text-anchor="start" fill="#000000" stroke="#fff" stroke-width="0.12" stroke-linejoin="round" >D7</text>
<text transform="translate(608.03 958.00) scale(0.9410 1)" font-size="22.5" font-weight="bold" text-anchor="start" fill="#000000" stroke="#fff" stroke-width="0.12" stroke-linejoin="round" >D14</text>
<line x1="456.75" y1="889.75" x2="456.75" y2="896.50" stroke="#000000" stroke-width="2.7" stroke-linecap="butt"/>
<line x1="448.25" y1="889.75" x2="465.75" y2="889.75" stroke="#000000" stroke-width="2.7" stroke-linecap="butt"/>
<line x1="456.75" y1="916.00" x2="456.75" y2="923.00" stroke="#000000" stroke-width="2.7" stroke-linecap="butt"/>
<line x1="448.25" y1="923.00" x2="465.75" y2="923.00" stroke="#000000" stroke-width="2.7" stroke-linecap="butt"/>
<rect x="439.25" y="896.50" width="35.00" height="19.50" fill="#fff" stroke="#000000" stroke-width="2.7"/>
<line x1="439.25" y1="905.50" x2="474.25" y2="905.50" stroke="#000000" stroke-width="2.7" stroke-linecap="butt"/>
<line x1="510.25" y1="806.25" x2="510.25" y2="878.40" stroke="#ff0000" stroke-width="2.5" stroke-linecap="butt"/>
<line x1="501.75" y1="806.25" x2="519.25" y2="806.25" stroke="#ff0000" stroke-width="2.5" stroke-linecap="butt"/>
<line x1="510.25" y1="878.40" x2="510.25" y2="899.25" stroke="#ff0000" stroke-width="2.5" stroke-linecap="butt"/>
<line x1="501.75" y1="899.25" x2="519.25" y2="899.25" stroke="#ff0000" stroke-width="2.5" stroke-linecap="butt"/>
<rect x="491.25" y="875.90" width="38.00" height="5.00" fill="#ff0000"/>
<line x1="599.88" y1="789.00" x2="599.88" y2="815.00" stroke="#000000" stroke-width="2.7" stroke-linecap="butt"/>
<line x1="591.40" y1="789.00" x2="607.80" y2="789.00" stroke="#000000" stroke-width="2.7" stroke-linecap="butt"/>
<line x1="599.88" y1="878.00" x2="599.88" y2="880.30" stroke="#000000" stroke-width="2.7" stroke-linecap="butt"/>
<line x1="591.40" y1="880.30" x2="607.80" y2="880.30" stroke="#000000" stroke-width="2.7" stroke-linecap="butt"/>
<rect x="583.00" y="815.00" width="33.75" height="63.00" fill="#fff" stroke="#000000" stroke-width="2.7"/>
<line x1="583.00" y1="858.60" x2="616.75" y2="858.60" stroke="#000000" stroke-width="2.7" stroke-linecap="butt"/>
<line x1="591.40" y1="880.30" x2="607.80" y2="880.30" stroke="#000000" stroke-width="3.4" stroke-linecap="butt"/>
<line x1="653.62" y1="858.00" x2="653.62" y2="864.00" stroke="#ff0000" stroke-width="2.7" stroke-linecap="butt"/>
<line x1="645.00" y1="858.00" x2="662.00" y2="858.00" stroke="#ff0000" stroke-width="2.7" stroke-linecap="butt"/>
<line x1="653.62" y1="892.00" x2="653.62" y2="898.75" stroke="#ff0000" stroke-width="2.7" stroke-linecap="butt"/>
<line x1="645.00" y1="898.75" x2="662.00" y2="898.75" stroke="#ff0000" stroke-width="2.7" stroke-linecap="butt"/>
<rect x="636.75" y="864.00" width="33.75" height="28.00" fill="#fff" stroke="#ff0000" stroke-width="2.7"/>
<line x1="636.75" y1="884.50" x2="670.50" y2="884.50" stroke="#ff0000" stroke-width="3.0" stroke-linecap="butt"/>
<line x1="853.90" y1="739.60" x2="853.90" y2="929.65" stroke="#000000" stroke-width="1.8" stroke-linecap="butt"/>
<line x1="847.50" y1="928.75" x2="1138.75" y2="928.75" stroke="#000000" stroke-width="1.8" stroke-linecap="butt"/>
<line x1="847.90" y1="740.50" x2="853.90" y2="740.50" stroke="#000000" stroke-width="1.8" stroke-linecap="butt"/>
<text transform="translate(845.50 747.60) scale(0.9200 1)" font-size="21.5" font-weight="bold" text-anchor="end" fill="#000000" stroke="#fff" stroke-width="0.05" stroke-linejoin="round" >4</text>
<line x1="847.90" y1="787.60" x2="853.90" y2="787.60" stroke="#000000" stroke-width="1.8" stroke-linecap="butt"/>
<text transform="translate(845.50 794.70) scale(0.9200 1)" font-size="21.5" font-weight="bold" text-anchor="end" fill="#000000" stroke="#fff" stroke-width="0.05" stroke-linejoin="round" >3</text>
<line x1="847.90" y1="834.60" x2="853.90" y2="834.60" stroke="#000000" stroke-width="1.8" stroke-linecap="butt"/>
<text transform="translate(845.50 841.70) scale(0.9200 1)" font-size="21.5" font-weight="bold" text-anchor="end" fill="#000000" stroke="#fff" stroke-width="0.05" stroke-linejoin="round" >2</text>
<line x1="847.90" y1="881.70" x2="853.90" y2="881.70" stroke="#000000" stroke-width="1.8" stroke-linecap="butt"/>
<text transform="translate(845.50 888.80) scale(0.9200 1)" font-size="21.5" font-weight="bold" text-anchor="end" fill="#000000" stroke="#fff" stroke-width="0.05" stroke-linejoin="round" >1</text>
<line x1="847.90" y1="928.75" x2="853.90" y2="928.75" stroke="#000000" stroke-width="1.8" stroke-linecap="butt"/>
<text transform="translate(845.50 935.85) scale(0.9200 1)" font-size="21.5" font-weight="bold" text-anchor="end" fill="#000000" stroke="#fff" stroke-width="0.05" stroke-linejoin="round" >0</text>
<line x1="920.00" y1="928.75" x2="920.00" y2="934.25" stroke="#000000" stroke-width="1.8" stroke-linecap="butt"/>
<line x1="1071.75" y1="928.75" x2="1071.75" y2="934.25" stroke="#000000" stroke-width="1.8" stroke-linecap="butt"/>
<line x1="996.25" y1="751.25" x2="996.25" y2="928.75" stroke="#000000" stroke-width="1.9" stroke-linecap="butt"/>
<text transform="translate(804.00 906.88) rotate(-90) scale(0.9584 1)" font-size="26" font-weight="bold" text-anchor="start" fill="#000000" stroke="#fff" stroke-width="0.25" stroke-linejoin="round" >% in total cells</text>
<text transform="translate(907.01 958.00) scale(0.9728 1)" font-size="22.5" font-weight="bold" text-anchor="start" fill="#000000" stroke="#fff" stroke-width="0.12" stroke-linejoin="round" >D7</text>
<text transform="translate(1053.02 958.00) scale(0.9541 1)" font-size="22.5" font-weight="bold" text-anchor="start" fill="#000000" stroke="#fff" stroke-width="0.12" stroke-linejoin="round" >D14</text>
<path d="M888.00 754.50 V745.50 H948.25 V754.50" fill="none" stroke="#000000" stroke-width="2.9" stroke-linejoin="round"/>
<text transform="translate(918.20 742.33)" font-size="13" font-weight="bold" text-anchor="middle" fill="#000000" stroke="#000000" stroke-width="0.4" stroke-linejoin="round" >*</text>
<line x1="891.90" y1="908.90" x2="891.90" y2="927.50" stroke="#000000" stroke-width="2.6" stroke-linecap="butt"/>
<line x1="882.70" y1="908.90" x2="901.30" y2="908.90" stroke="#000000" stroke-width="3.0" stroke-linecap="butt"/>
<line x1="882.70" y1="927.30" x2="901.30" y2="927.30" stroke="#000000" stroke-width="2.4" stroke-linecap="butt"/>
<rect x="873.6" y="914.5" width="36" height="5.2" fill="#8a8a8a" stroke="#000" stroke-width="3.2"/>
<line x1="948.50" y1="761.00" x2="948.50" y2="778.00" stroke="#ff0000" stroke-width="2.5" stroke-linecap="butt"/>
<line x1="939.25" y1="761.00" x2="957.00" y2="761.00" stroke="#ff0000" stroke-width="2.5" stroke-linecap="butt"/>
<line x1="948.50" y1="871.75" x2="948.50" y2="881.00" stroke="#ff0000" stroke-width="2.5" stroke-linecap="butt"/>
<line x1="939.25" y1="881.00" x2="957.00" y2="881.00" stroke="#ff0000" stroke-width="2.5" stroke-linecap="butt"/>
<rect x="931.00" y="778.00" width="35.00" height="93.75" fill="#fff" stroke="#ff0000" stroke-width="2.5"/>
<line x1="931.00" y1="835.50" x2="966.00" y2="835.50" stroke="#ff0000" stroke-width="2.5" stroke-linecap="butt"/>
<line x1="1043.38" y1="878.80" x2="1043.38" y2="882.25" stroke="#000000" stroke-width="2.7" stroke-linecap="butt"/>
<line x1="1034.50" y1="878.80" x2="1052.00" y2="878.80" stroke="#000000" stroke-width="2.7" stroke-linecap="butt"/>
<line x1="1043.38" y1="910.50" x2="1043.38" y2="918.00" stroke="#000000" stroke-width="2.7" stroke-linecap="butt"/>
<line x1="1034.50" y1="918.00" x2="1052.00" y2="918.00" stroke="#000000" stroke-width="2.7" stroke-linecap="butt"/>
<rect x="1025.50" y="882.25" width="35.75" height="28.25" fill="#fff" stroke="#000000" stroke-width="2.7"/>
<line x1="1025.50" y1="901.75" x2="1061.25" y2="901.75" stroke="#000000" stroke-width="2.7" stroke-linecap="butt"/>
<line x1="1034.50" y1="878.80" x2="1052.00" y2="878.80" stroke="#000000" stroke-width="3.2" stroke-linecap="butt"/>
<line x1="1100.25" y1="810.20" x2="1100.25" y2="811.75" stroke="#ff0000" stroke-width="2.5" stroke-linecap="butt"/>
<line x1="1091.25" y1="810.20" x2="1108.75" y2="810.20" stroke="#ff0000" stroke-width="2.5" stroke-linecap="butt"/>
<line x1="1100.25" y1="888.40" x2="1100.25" y2="893.50" stroke="#ff0000" stroke-width="2.5" stroke-linecap="butt"/>
<line x1="1091.25" y1="893.50" x2="1108.75" y2="893.50" stroke="#ff0000" stroke-width="2.5" stroke-linecap="butt"/>
<rect x="1082.50" y="811.75" width="35.50" height="76.65" fill="#fff" stroke="#ff0000" stroke-width="2.5"/>
<line x1="1082.50" y1="846.10" x2="1118.00" y2="846.10" stroke="#ff0000" stroke-width="2.5" stroke-linecap="butt"/>
<line x1="1091.25" y1="810.20" x2="1108.75" y2="810.20" stroke="#ff0000" stroke-width="3.0" stroke-linecap="butt"/>
<line x1="1091.25" y1="893.50" x2="1108.75" y2="893.50" stroke="#ff0000" stroke-width="3.0" stroke-linecap="butt"/>
<line x1="1277.00" y1="736.05" x2="1277.00" y2="928.95" stroke="#000000" stroke-width="1.9" stroke-linecap="butt"/>
<line x1="1271.75" y1="928.00" x2="1565.75" y2="928.00" stroke="#111" stroke-width="2.3" stroke-linecap="butt"/>
<line x1="1271.50" y1="737.00" x2="1277.00" y2="737.00" stroke="#000000" stroke-width="1.9" stroke-linecap="butt"/>
<text transform="translate(1268.75 744.10) scale(0.9000 1)" font-size="21.5" font-weight="bold" text-anchor="end" fill="#000000" stroke="#fff" stroke-width="0.05" stroke-linejoin="round" >4</text>
<line x1="1271.50" y1="784.75" x2="1277.00" y2="784.75" stroke="#000000" stroke-width="1.9" stroke-linecap="butt"/>
<text transform="translate(1268.75 791.85) scale(0.9000 1)" font-size="21.5" font-weight="bold" text-anchor="end" fill="#000000" stroke="#fff" stroke-width="0.05" stroke-linejoin="round" >3</text>
<line x1="1271.50" y1="832.50" x2="1277.00" y2="832.50" stroke="#000000" stroke-width="1.9" stroke-linecap="butt"/>
<text transform="translate(1268.75 839.60) scale(0.9000 1)" font-size="21.5" font-weight="bold" text-anchor="end" fill="#000000" stroke="#fff" stroke-width="0.05" stroke-linejoin="round" >2</text>
<line x1="1271.50" y1="880.25" x2="1277.00" y2="880.25" stroke="#000000" stroke-width="1.9" stroke-linecap="butt"/>
<text transform="translate(1268.75 887.35) scale(0.9000 1)" font-size="21.5" font-weight="bold" text-anchor="end" fill="#000000" stroke="#fff" stroke-width="0.05" stroke-linejoin="round" >1</text>
<line x1="1271.50" y1="928.00" x2="1277.00" y2="928.00" stroke="#000000" stroke-width="1.9" stroke-linecap="butt"/>
<text transform="translate(1268.75 935.10) scale(0.9000 1)" font-size="21.5" font-weight="bold" text-anchor="end" fill="#000000" stroke="#fff" stroke-width="0.05" stroke-linejoin="round" >0</text>
<line x1="1348.75" y1="928.00" x2="1348.75" y2="933.50" stroke="#111" stroke-width="2.3" stroke-linecap="butt"/>
<line x1="1492.00" y1="928.00" x2="1492.00" y2="933.50" stroke="#111" stroke-width="2.3" stroke-linecap="butt"/>
<line x1="1418.00" y1="731.75" x2="1418.00" y2="928.00" stroke="#000000" stroke-width="1.8" stroke-linecap="butt"/>
<text transform="translate(1230.25 905.91) rotate(-90) scale(0.9645 1)" font-size="26" font-weight="bold" text-anchor="start" fill="#000000" stroke="#fff" stroke-width="0.25" stroke-linejoin="round" >% in total cells</text>
<text transform="translate(1335.01 957.50) scale(0.9909 1)" font-size="22.5" font-weight="bold" text-anchor="start" fill="#000000" stroke="#fff" stroke-width="0.12" stroke-linejoin="round" >D7</text>
<text transform="translate(1474.02 957.50) scale(0.9737 1)" font-size="22.5" font-weight="bold" text-anchor="start" fill="#000000" stroke="#fff" stroke-width="0.12" stroke-linejoin="round" >D14</text>
<line x1="1322.12" y1="805.90" x2="1322.12" y2="846.75" stroke="#000000" stroke-width="3.0" stroke-linecap="butt"/>
<line x1="1313.00" y1="805.90" x2="1330.50" y2="805.90" stroke="#000000" stroke-width="3.0" stroke-linecap="butt"/>
<line x1="1322.12" y1="902.50" x2="1322.12" y2="909.25" stroke="#000000" stroke-width="3.0" stroke-linecap="butt"/>
<line x1="1313.00" y1="909.25" x2="1330.50" y2="909.25" stroke="#000000" stroke-width="3.0" stroke-linecap="butt"/>
<rect x="1305.00" y="846.75" width="34.25" height="55.75" fill="#fff" stroke="#000000" stroke-width="3.0"/>
<line x1="1305.00" y1="859.60" x2="1339.25" y2="859.60" stroke="#000000" stroke-width="3.4" stroke-linecap="butt"/>
<line x1="1376.00" y1="865.00" x2="1376.00" y2="876.25" stroke="#ff0000" stroke-width="2.8" stroke-linecap="butt"/>
<line x1="1367.50" y1="865.00" x2="1384.50" y2="865.00" stroke="#ff0000" stroke-width="2.8" stroke-linecap="butt"/>
<line x1="1376.00" y1="876.25" x2="1376.00" y2="887.50" stroke="#ff0000" stroke-width="2.8" stroke-linecap="butt"/>
<line x1="1367.50" y1="887.50" x2="1384.50" y2="887.50" stroke="#ff0000" stroke-width="2.8" stroke-linecap="butt"/>
<rect x="1356.85" y="873.75" width="38.30" height="5.00" fill="#ff0000"/>
<line x1="1466.12" y1="757.00" x2="1466.12" y2="809.00" stroke="#000000" stroke-width="3.0" stroke-linecap="butt"/>
<line x1="1457.00" y1="757.00" x2="1474.25" y2="757.00" stroke="#000000" stroke-width="3.0" stroke-linecap="butt"/>
<line x1="1466.12" y1="900.00" x2="1466.12" y2="902.80" stroke="#000000" stroke-width="3.0" stroke-linecap="butt"/>
<line x1="1457.00" y1="902.80" x2="1474.25" y2="902.80" stroke="#000000" stroke-width="3.0" stroke-linecap="butt"/>
<rect x="1449.25" y="809.00" width="33.75" height="91.00" fill="#fff" stroke="#000000" stroke-width="3.0"/>
<line x1="1449.25" y1="883.75" x2="1483.00" y2="883.75" stroke="#000000" stroke-width="3.6" stroke-linecap="butt"/>
<line x1="1457.00" y1="902.80" x2="1474.25" y2="902.80" stroke="#000000" stroke-width="3.2" stroke-linecap="butt"/>
<line x1="1519.38" y1="839.25" x2="1519.38" y2="855.50" stroke="#ff0000" stroke-width="2.3" stroke-linecap="butt"/>
<line x1="1511.25" y1="839.25" x2="1528.25" y2="839.25" stroke="#ff0000" stroke-width="2.3" stroke-linecap="butt"/>
<line x1="1519.38" y1="909.75" x2="1519.38" y2="912.30" stroke="#ff0000" stroke-width="2.3" stroke-linecap="butt"/>
<line x1="1511.25" y1="912.30" x2="1528.25" y2="912.30" stroke="#ff0000" stroke-width="2.3" stroke-linecap="butt"/>
<rect x="1502.50" y="855.50" width="33.75" height="54.25" fill="#fff" stroke="#ff0000" stroke-width="2.3"/>
<line x1="1502.50" y1="871.10" x2="1536.25" y2="871.10" stroke="#ff0000" stroke-width="2.3" stroke-linecap="butt"/>
<line x1="1511.25" y1="912.30" x2="1528.25" y2="912.30" stroke="#ff0000" stroke-width="2.8" stroke-linecap="butt"/>
</g>
</svg>
</body>
</html>
